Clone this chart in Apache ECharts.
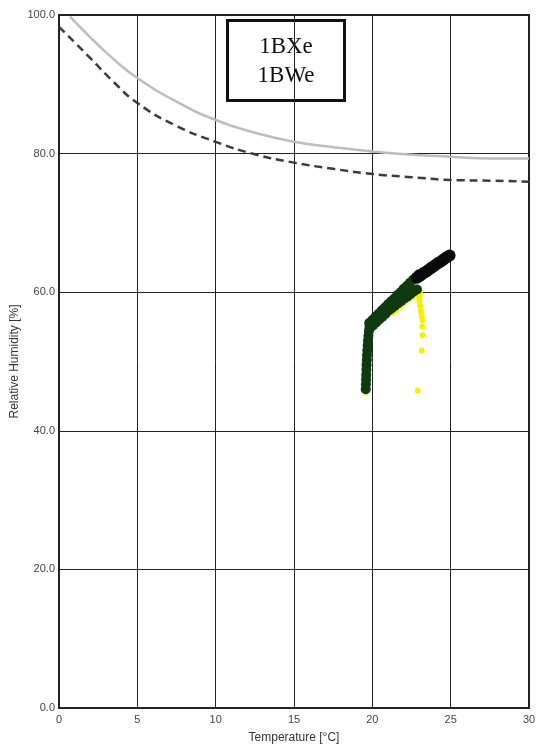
<!DOCTYPE html>
<html>
<head>
<meta charset="utf-8">
<script src="https://cdn.jsdelivr.net/npm/echarts@6/dist/echarts.min.js"></script>
<style>html,body{margin:0;padding:0;background:#fff}#chart{width:550px;height:751px}</style>
</head>
<body>
<div id="chart"></div>
<script>
// Axis ticks
const xTicks = [0, 5, 10, 15, 20, 25, 30];
const yTicks = [0, 20, 40, 60, 80, 100];
// Legend box text
const boxLines = ['1BXe', '1BWe'];
// Limit curves [temperature, RH]
const solidCurve = [[0.7,99.75],[1.9,97.0],[3.5,93.6],[5,90.9],[7.5,87.5],[10,84.85],[12.5,83.0],[15,81.7],[17.3,81.0],[20,80.3],[22.5,79.85],[25,79.55],[27.5,79.3],[30,79.3]];
const dashedCurve = [[0,98.3],[1.9,94.0],[3.5,90.3],[5,87.3],[7.4,84.1],[10,81.7],[12.5,79.9],[15,78.7],[17.5,77.8],[20,77.05],[22.5,76.6],[25,76.2],[27.5,76.1],[30,75.95]];
// Measured points
const yellowPts = [[19.57,45.6],[21.3,57.0],[21.5,57.4],[21.8,58.0],[22.0,58.4],[22.3,58.9],[22.55,59.3],[22.75,59.7],[22.9,60.0],[23.0,60.3],[23.05,59.8],[22.98,59.3],[23.0,58.7],[23.05,58.0],[23.1,57.3],[23.15,56.6],[23.2,56.0],[23.19,55.0],[23.21,53.8],[23.15,51.6],[22.89,45.8]];
const greenPts = [[19.58,46.0],[19.59,46.7],[19.6,47.4],[19.61,48.1],[19.62,48.8],[19.63,49.5],[19.65,50.2],[19.66,50.9],[19.68,51.6],[19.7,52.3],[19.72,53.0],[19.75,53.7],[19.78,54.4],[19.82,55.0],
 [19.8,55.55],[20.0,56.0],[20.2,56.45],[20.4,56.9],[20.6,57.35],[20.8,57.8],[21.0,58.25],[21.2,58.7],[21.4,59.1],[21.6,59.6],[21.8,60.0],[22.0,60.5],[22.2,60.9],[22.4,61.35],[22.6,61.8],[22.8,62.2],[22.95,62.55],
 [19.85,54.8],[20.05,55.2],[20.25,55.65],[20.45,56.05],[20.65,56.45],[20.85,56.9],[21.05,57.35],[21.25,57.7],[21.45,58.05],[21.65,58.4],[21.85,58.75],[22.05,59.1],[22.25,59.4],[22.45,59.75],[22.65,60.1],[22.85,60.4]];
const blackPts = [[22.85,62.1],[23.0,62.3],[23.15,62.55],[23.3,62.8],[23.45,63.0],[23.6,63.25],[23.75,63.5],[23.9,63.7],[24.05,63.95],[24.2,64.2],[24.35,64.4],[24.5,64.65],[24.65,64.9],[24.8,65.1],[24.93,65.3]];

const chart = echarts.init(document.getElementById('chart'), null, {renderer:'canvas'});
const labelFont = {fontFamily:'Liberation Sans, Arial, sans-serif', fontSize:11, color:'#444'};
chart.setOption({
  animation:false,
  backgroundColor:'#fff',
  grid:{left:59,right:21,top:15,bottom:43,containLabel:false,outerBoundsMode:'none',show:true,borderColor:'#222',borderWidth:2,backgroundColor:'transparent'},
  xAxis:{type:'value',min:xTicks[0],max:xTicks[xTicks.length-1],interval:5,
    name:'Temperature [°C]',nameLocation:'middle',nameGap:24,nameMoveOverlap:false,
    nameTextStyle:{fontFamily:'Liberation Sans, Arial, sans-serif',fontSize:12,color:'#333'},
    axisLine:{show:true,lineStyle:{color:'#222',width:2}},axisTick:{show:false},
    axisLabel:Object.assign({margin:6,formatter:v=>String(v)},labelFont),
    splitLine:{show:true,lineStyle:{color:'#222',width:1}}},
  yAxis:{type:'value',min:yTicks[0],max:yTicks[yTicks.length-1],interval:20,
    name:'Relative Humidity [%]',nameLocation:'middle',nameGap:38,nameMoveOverlap:false,
    nameTextStyle:{fontFamily:'Liberation Sans, Arial, sans-serif',fontSize:12,color:'#333'},
    axisLine:{show:true,lineStyle:{color:'#222',width:2}},axisTick:{show:false},
    axisLabel:Object.assign({margin:4,formatter:v=>v.toFixed(1)},labelFont),
    splitLine:{show:true,lineStyle:{color:'#222',width:1}}},
  graphic:[{type:'group',left:226,top:19,children:[
    {type:'rect',shape:{x:0,y:0,width:117,height:80},style:{fill:'#fff',stroke:'#111',lineWidth:3}},
    {type:'text',x:58.5,y:26,style:{text:boxLines[0],font:'23px "Liberation Serif", "DejaVu Serif", serif',fill:'#111',align:'center',verticalAlign:'middle'}},
    {type:'text',x:58.5,y:55,style:{text:boxLines[1],font:'23px "Liberation Serif", "DejaVu Serif", serif',fill:'#111',align:'center',verticalAlign:'middle'}}
  ]}],
  series:[
    {type:'line',data:solidCurve,smooth:true,showSymbol:false,lineStyle:{color:'#bdbdbd',width:2.5},z:3},
    {type:'line',data:dashedCurve,smooth:true,showSymbol:false,lineStyle:{color:'#3c3c3c',width:2.5,type:[8,5]},z:3},
    {type:'scatter',data:yellowPts,symbolSize:6,itemStyle:{color:'#f2f200',opacity:1},z:4},
    {type:'scatter',data:greenPts,symbolSize:10,itemStyle:{color:'#0f3a10',opacity:1},z:5},
    {type:'scatter',data:blackPts,symbolSize:12,itemStyle:{color:'#0a0a0a',opacity:1},z:6}
  ]
});
</script>
</body>
</html>
